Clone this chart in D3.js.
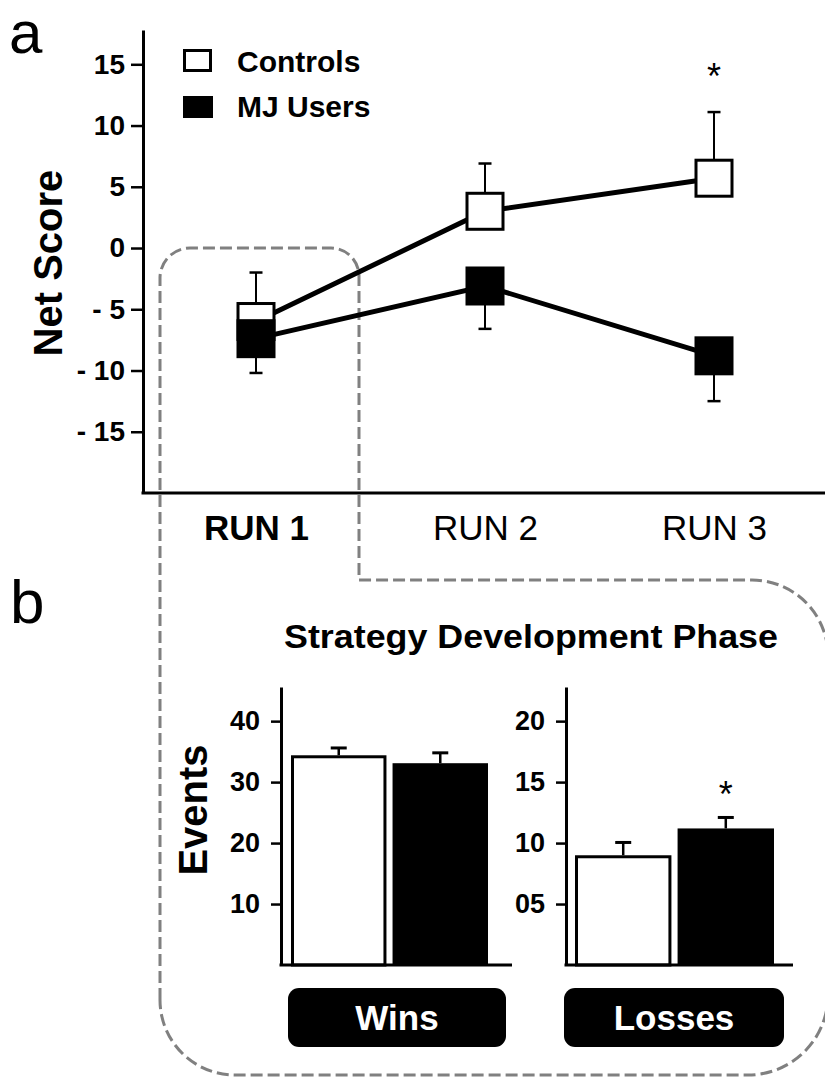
<!DOCTYPE html>
<html>
<head>
<meta charset="utf-8">
<script src="https://cdn.jsdelivr.net/npm/d3@7"></script>
<style>
  html, body { margin: 0; padding: 0; background: #fff; }
  svg { display: block; font-family: "Liberation Sans", Arial, sans-serif; }
</style>
</head>
<body>
<svg id="chart" width="825" height="1079"></svg>
<script>
// ---------- data ----------
const runs = ["RUN 1", "RUN 2", "RUN 3"];
const controlsNet = [-6.0, 3.0, 5.7];
const controlsNetErr = [4.0, 3.9, 5.4];
const mjNet = [-7.4, -3.1, -8.8];
const mjNetErr = [2.8, 3.5, 3.7];
const netTicks = [-15, -10, -5, 0, 5, 10, 15];
const netTickLabels = ["- 15", "- 10", "- 5", "0", "5", "10", "15"];
const groups = ["Controls", "MJ Users"];
const winsMeans = [34.4, 33.1];
const winsErr = [1.2, 1.7];
const lossesMeans = [9.0, 11.2];
const lossesErr = [1.05, 0.9];
const winsTicks = [10, 20, 30, 40];
const winsTickLabels = ["10", "20", "30", "40"];
const lossesTicks = [5, 10, 15, 20];
const lossesTickLabels = ["05", "10", "15", "20"];

const svg = d3.select("#chart");
const FONT = '"Liberation Sans", Arial, sans-serif';

// ---------- dashed outline (drawn first, behind) ----------
const dash = d3.path();
dash.moveTo(160, 1000);
dash.lineTo(160, 278);
dash.arcTo(160, 248, 190, 248, 30);
dash.lineTo(331, 248);
dash.arcTo(359, 248, 359, 276, 28);
dash.lineTo(359, 580);
dash.lineTo(752, 580);
dash.arcTo(828, 580, 828, 656, 76);
dash.lineTo(828, 995);
dash.arcTo(828, 1075, 748, 1075, 80);
dash.lineTo(235, 1075);
dash.arcTo(160, 1075, 160, 1000, 75);
dash.closePath();
svg.append("path").attr("d", dash.toString())
  .attr("fill", "none").attr("stroke", "#808080")
  .attr("stroke-width", 3).attr("stroke-dasharray", "12,5");

// ---------- panel a ----------
const y = d3.scaleLinear().domain([-20, 17.8]).range([493, 30]);
const x = d3.scalePoint().domain(runs).range([256, 714]);

const yAxis = d3.axisLeft(y).tickValues(netTicks)
  .tickFormat((d, i) => netTickLabels[i]).tickSize(12).tickSizeOuter(0).tickPadding(6);
const gy = svg.append("g").attr("transform", "translate(143,0)").call(yAxis);
gy.select(".domain").attr("stroke", "#000").attr("stroke-width", 3);
gy.selectAll(".tick line").attr("stroke", "#000").attr("stroke-width", 2.5);
gy.selectAll(".tick text").attr("font-family", FONT).attr("font-size", 28)
  .attr("font-weight", "bold").attr("fill", "#000");

// x axis line
svg.append("line").attr("x1", 141.5).attr("x2", 825)
  .attr("y1", y(-20)).attr("y2", y(-20))
  .attr("stroke", "#000").attr("stroke-width", 3);

const xAxis = d3.axisBottom(x).tickSize(0).tickPadding(22);
const gx = svg.append("g").attr("transform", `translate(0,${y(-20)})`).call(xAxis);
gx.select(".domain").remove();
gx.selectAll(".tick text").attr("font-family", FONT).attr("font-size", 35)
  .attr("fill", "#000")
  .attr("font-weight", (d, i) => i === 0 ? "bold" : "normal");

// Net Score label
svg.append("text").attr("transform", "translate(62,263) rotate(-90)")
  .attr("text-anchor", "middle").attr("font-family", FONT)
  .attr("font-size", 40).attr("font-weight", "bold").attr("fill", "#000").text("Net Score");

// panel letter a
svg.append("text").attr("x", 9).attr("y", 53).attr("font-family", FONT)
  .attr("font-size", 60).attr("fill", "#000").text("a");

// lines
const line = d3.line().x((d, i) => x(runs[i])).y(d => y(d));
svg.append("path").attr("d", line(controlsNet)).attr("fill", "none")
  .attr("stroke", "#000").attr("stroke-width", 5);
svg.append("path").attr("d", line(mjNet)).attr("fill", "none")
  .attr("stroke", "#000").attr("stroke-width", 5);

// error bars
const capA = 6.5;
function errBar(g, cx, y0, y1, cap, sw) {
  g.append("line").attr("x1", cx).attr("x2", cx).attr("y1", y0).attr("y2", y1)
    .attr("stroke", "#000").attr("stroke-width", sw);
  g.append("line").attr("x1", cx - cap).attr("x2", cx + cap).attr("y1", y1).attr("y2", y1)
    .attr("stroke", "#000").attr("stroke-width", sw + 0.5);
}
const ge = svg.append("g");
controlsNet.forEach((v, i) => errBar(ge, x(runs[i]), y(v), y(v + controlsNetErr[i]), capA, 2));
mjNet.forEach((v, i) => errBar(ge, x(runs[i]), y(v), y(v - mjNetErr[i]), capA, 2));

// markers
const S = 36;
svg.append("g").selectAll("rect").data(controlsNet).join("rect")
  .attr("x", (d, i) => x(runs[i]) - S / 2).attr("y", d => y(d) - S / 2)
  .attr("width", S).attr("height", S)
  .attr("fill", "#fff").attr("stroke", "#000").attr("stroke-width", 3);
svg.append("g").selectAll("rect").data(mjNet).join("rect")
  .attr("x", (d, i) => x(runs[i]) - S / 2 - 1.5).attr("y", d => y(d) - S / 2 - 1.5)
  .attr("width", S + 3).attr("height", S + 3)
  .attr("fill", "#000");

// asterisk run 3
svg.append("text").attr("x", x(runs[2])).attr("y", 89).attr("text-anchor", "middle")
  .attr("font-family", FONT).attr("font-size", 36).attr("fill", "#000").text("*");

// legend
const lg = svg.append("g");
lg.append("rect").attr("x", 184.5).attr("y", 50.5).attr("width", 26).attr("height", 20)
  .attr("fill", "#fff").attr("stroke", "#000").attr("stroke-width", 3);
lg.append("rect").attr("x", 183).attr("y", 96).attr("width", 30).attr("height", 22)
  .attr("fill", "#000");
lg.append("text").attr("x", 237).attr("y", 72).attr("font-family", FONT)
  .attr("font-size", 30).attr("font-weight", "bold").attr("fill", "#000").text(groups[0]);
lg.append("text").attr("x", 237).attr("y", 117).attr("font-family", FONT)
  .attr("font-size", 30).attr("font-weight", "bold").attr("fill", "#000").text(groups[1]);

// ---------- panel b ----------
svg.append("text").attr("x", 10).attr("y", 623).attr("font-family", FONT)
  .attr("font-size", 62).attr("fill", "#000").text("b");

svg.append("text").attr("x", 284).attr("y", 648).attr("font-family", FONT)
  .attr("font-size", 33).attr("font-weight", "bold").attr("fill", "#000")
  .attr("textLength", 494).attr("lengthAdjust", "spacingAndGlyphs")
  .text("Strategy Development Phase");

svg.append("text").attr("transform", "translate(207,810) rotate(-90)")
  .attr("text-anchor", "middle").attr("font-family", FONT)
  .attr("font-size", 40).attr("font-weight", "bold").attr("fill", "#000").text("Events");

function barPanel(opts) {
  const { axisX, xEnd, domainMax, ticks, tickLabels, means, errs, bandRange, label, boxX0, boxX1, star } = opts;
  const yb = d3.scaleLinear().domain([0, domainMax]).range([965, 687]);
  const xb = d3.scaleBand().domain(groups).range(bandRange).paddingInner(0.06).paddingOuter(0);
  const ax = d3.axisLeft(yb).tickValues(ticks).tickFormat((d, i) => tickLabels[i])
    .tickSize(10).tickSizeOuter(0).tickPadding(11);
  const g = svg.append("g");
  // bars
  g.selectAll("rect.bar").data(means).join("rect").attr("class", "bar")
    .attr("x", (d, i) => xb(groups[i]) + (i === 0 ? 1.5 : 0))
    .attr("y", (d, i) => yb(d) + (i === 0 ? 1.5 : 0))
    .attr("width", (d, i) => xb.bandwidth() - (i === 0 ? 3 : 0))
    .attr("height", (d, i) => yb(0) - yb(d) - (i === 0 ? 1.5 : 0))
    .attr("fill", (d, i) => i === 0 ? "#fff" : "#000")
    .attr("stroke", (d, i) => i === 0 ? "#000" : "none")
    .attr("stroke-width", 3);
  // error bars
  means.forEach((m, i) => {
    const cx = xb(groups[i]) + xb.bandwidth() / 2;
    errBar(g, cx, yb(m), yb(m + errs[i]), 8, 2.5);
  });
  // axes
  const gyb = g.append("g").attr("transform", `translate(${axisX},0)`).call(ax);
  gyb.select(".domain").attr("stroke", "#000").attr("stroke-width", 3);
  gyb.selectAll(".tick line").attr("stroke", "#000").attr("stroke-width", 2.5);
  gyb.selectAll(".tick text").attr("font-family", FONT).attr("font-size", 27)
    .attr("font-weight", "bold").attr("fill", "#000");
  g.append("line").attr("x1", axisX - 1.5).attr("x2", xEnd)
    .attr("y1", yb(0)).attr("y2", yb(0)).attr("stroke", "#000").attr("stroke-width", 3);
  // label box
  g.append("rect").attr("x", boxX0).attr("y", 988).attr("width", boxX1 - boxX0)
    .attr("height", 59).attr("rx", 11).attr("ry", 11).attr("fill", "#000");
  g.append("text").attr("x", (boxX0 + boxX1) / 2).attr("y", 1030)
    .attr("text-anchor", "middle").attr("font-family", FONT).attr("font-size", 35)
    .attr("font-weight", "bold").attr("fill", "#fff").text(label);
  if (star) {
    const cx = xb(groups[1]) + xb.bandwidth() / 2;
    g.append("text").attr("x", cx).attr("y", 807).attr("text-anchor", "middle")
      .attr("font-family", FONT).attr("font-size", 36).attr("fill", "#000").text("*");
  }
}

barPanel({ axisX: 281, xEnd: 512, domainMax: 45.6, ticks: winsTicks, tickLabels: winsTickLabels,
  means: winsMeans, errs: winsErr, bandRange: [291, 488], label: "Wins", boxX0: 288, boxX1: 506, star: false });
barPanel({ axisX: 566, xEnd: 793, domainMax: 22.8, ticks: lossesTicks, tickLabels: lossesTickLabels,
  means: lossesMeans, errs: lossesErr, bandRange: [575, 774], label: "Losses", boxX0: 564, boxX1: 784, star: true });
</script>
</body>
</html>
